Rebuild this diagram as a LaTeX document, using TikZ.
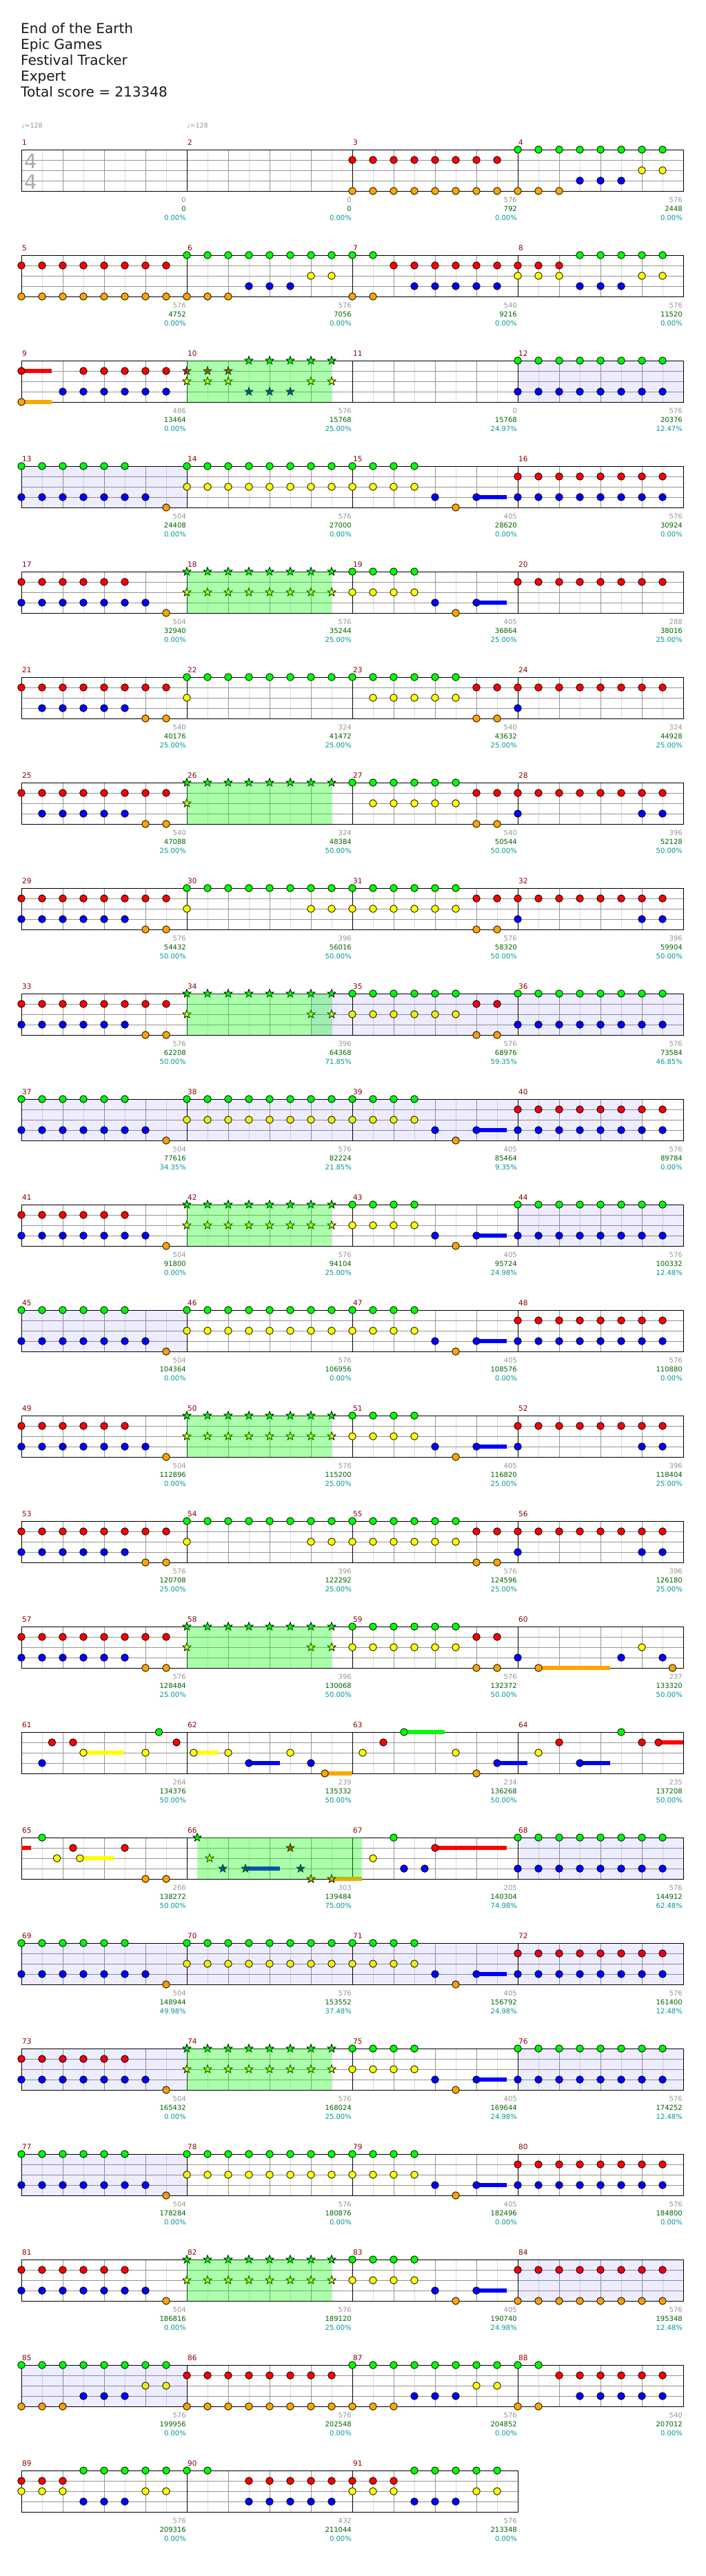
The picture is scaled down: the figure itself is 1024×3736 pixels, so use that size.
\documentclass[tikz,border=0pt]{standalone}
\usepackage{fontspec}
\setmainfont{DejaVu Sans}
\usepackage{tikz}
\definecolor{laneGreen}{RGB}{0,255,0}
\definecolor{laneRed}{RGB}{255,0,0}
\definecolor{laneYellow}{RGB}{255,255,0}
\definecolor{laneBlue}{RGB}{0,0,255}
\definecolor{laneOrange}{RGB}{255,165,0}
\colorlet{lane0}{laneGreen}
\colorlet{lane1}{laneRed}
\colorlet{lane2}{laneYellow}
\colorlet{lane3}{laneBlue}
\colorlet{lane4}{laneOrange}
\definecolor{barRed}{RGB}{139,0,0}
\definecolor{statGray}{RGB}{150,150,150}
\definecolor{statGreen}{RGB}{0,100,0}
\definecolor{statTeal}{RGB}{0,150,150}
\definecolor{gridGray}{RGB}{150,150,150}
\definecolor{gridLight}{RGB}{220,220,220}

\tikzset{
  note/.style={draw=black,line width=0.8pt},
  spfill/.style={fill=laneGreen,fill opacity=0.33},
  lavfill/.style={fill=laneBlue,fill opacity=0.07},
  titletext/.style={anchor=base west,inner sep=0pt,text=black!90,font=\fontsize{20}{24}\selectfont},
  tempo/.style={anchor=base west,inner sep=0pt,text=statGray,font=\fontsize{9.5}{11}\selectfont},
  timesig/.style={anchor=base,inner sep=0pt,text=black!33,font=\fontsize{29}{30}\selectfont},
  barnum/.style={anchor=base west,inner sep=0pt,text=barRed,font=\fontsize{10.5}{12}\selectfont},
  stathit/.style={anchor=base east,inner sep=0pt,text=statGray,font=\fontsize{10}{12}\selectfont},
  statscore/.style={stathit,text=statGreen},
  statpct/.style={stathit,text=statTeal}
}

% origin of measure #1 -> \mX, \mY
\newcommand{\setm}[1]{%
  \pgfmathtruncatemacro{\mcol}{mod(#1-1,4)}%
  \pgfmathtruncatemacro{\mrow}{(#1-1)/4}%
  \pgfmathsetmacro{\mX}{31+240*\mcol}%
  \pgfmathsetmacro{\mY}{217+153*\mrow}}
% notes: measure, lane, positions (eighths)
\newcommand{\nts}[3]{\setm{#1}\foreach \pos in {#3}{\filldraw[note,fill=lane#2] ({\mX+30*\pos},{\mY+15*#2}) circle (5.3);}}
% star notes
\newcommand{\sts}[3]{\setm{#1}\foreach \pos in {#3}{\filldraw[note,fill=lane#2,shift={({\mX+30*\pos},{\mY+15*#2})}]
  (0,-6.3) -- (1.53,-2.1) -- (5.99,-1.95) -- (2.47,0.8) -- (3.7,5.1) -- (0,2.6) -- (-3.7,5.1) -- (-2.47,0.8) -- (-5.99,-1.95) -- (-1.53,-2.1) -- cycle;}}
% sustain: measure, lane, from, to
\newcommand{\sus}[4]{\setm{#1}\fill[lane#2] ({\mX+30*#3},{\mY+15*#2-3.4}) rectangle ({\mX+30*#4},{\mY+15*#2+3.4});}
% overlays: measure, from, to
\newcommand{\spb}[3]{\setm{#1}\fill[spfill] ({\mX+30*#2},\mY) rectangle ({\mX+30*#3},{\mY+60});}
\newcommand{\lav}[3]{\setm{#1}\fill[lavfill] ({\mX+30*#2},\mY) rectangle ({\mX+30*#3},{\mY+60});}
% staff: row, last column
\newcommand{\staff}[2]{%
  \pgfmathsetmacro{\sY}{217+153*#1}%
  \pgfmathsetmacro{\sR}{31+240*(#2+1)}%
  \foreach \col in {0,...,#2}{
    \foreach \kk in {1,3,5,7} \draw[gridLight,line width=1pt] ({31+240*\col+30*\kk},\sY) -- ++(0,60);
    \foreach \kk in {2,4,6} \draw[gridGray,line width=1pt] ({31+240*\col+30*\kk},\sY) -- ++(0,60);
  }
  \foreach \lne in {1,2,3} \draw[gridGray,line width=1pt] (31,{\sY+15*\lne}) -- (\sR,{\sY+15*\lne});
  \foreach \col in {1,...,#2} \draw[black,line width=1pt] ({31+240*\col},\sY) -- ++(0,60);
  \draw[black,line width=1pt] (31,\sY) rectangle (\sR,{\sY+60});}
% repeated figures
\newcommand{\pair}[3]{\nts{#1}{#2}{0,...,7}\nts{#1}{#3}{0,...,7}}
\newcommand{\chugA}[1]{\nts{#1}{0}{0,...,7}\nts{#1}{4}{0,1,2}\nts{#1}{3}{3,4,5}\nts{#1}{2}{6,7}}
\newcommand{\chugB}[1]{\nts{#1}{1}{0,1,2}\nts{#1}{2}{0,1,2}\nts{#1}{0}{3,...,7}\nts{#1}{3}{3,4,5}\nts{#1}{2}{6,7}}
\newcommand{\runA}[2]{\nts{#1}{#2}{0,...,5}\nts{#1}{3}{0,...,6}\nts{#1}{4}{7}}
\newcommand{\fillA}[1]{\nts{#1}{0}{0,...,3}\nts{#1}{2}{0,...,3}\sus{#1}{3}{6}{7.48}\nts{#1}{3}{4,6}\nts{#1}{4}{5}}
\newcommand{\leadA}[2]{\nts{#1}{1}{0,...,7}\nts{#1}{3}{#2}\nts{#1}{4}{6,7}}
\newcommand{\leadB}[2]{\nts{#1}{0}{0,...,5}\nts{#1}{2}{#2}\nts{#1}{1}{6,7}\nts{#1}{4}{6,7}}
\newcommand{\spStars}[1]{\sts{#1}{0}{0,...,7}\sts{#1}{2}{0,...,7}}

\begin{document}
\begin{tikzpicture}[x=1pt,y=-1pt]
  \useasboundingbox (0,0) rectangle (1024,3736);
  % header
  \node[titletext] (song) at (30,49) {End of the Earth};
  \node[titletext] (artist) at (30,72) {Epic Games};
  \node[titletext] (source) at (30,95) {Festival Tracker};
  \node[titletext] (level) at (30,118) {Expert};
  \node[titletext] (total) at (30,141) {Total score = 213348};
  \node[tempo] (tempo1) at (31,185) {♩=128};
  \node[tempo] (tempo2) at (271,185) {♩=128};

  % staves
  \foreach \r in {0,...,21} {\staff{\r}{3}}
  \staff{22}{2}
  \node[timesig] (tsTop) at (44.3,244) {4};
  \node[timesig] (tsBot) at (44.3,274) {4};

  % measures 1-8
  \pair{3}{1}{4} \chugA{4}
  \pair{5}{1}{4} \chugA{6}
  \nts{7}{0}{0,1}\nts{7}{4}{0,1}\nts{7}{1}{2,...,7}\nts{7}{3}{3,...,7}
  \chugB{8}
  % measures 9-16
  \sus{9}{1}{0}{1.48}\sus{9}{4}{0}{1.48}
  \nts{9}{1}{0,3,4,5,6,7}\nts{9}{4}{0}\nts{9}{3}{2,...,7}
  \sts{10}{1}{0,1,2}\sts{10}{2}{0,1,2}\sts{10}{0}{3,...,7}\sts{10}{3}{3,4,5}\sts{10}{2}{6,7}
  \pair{12}{0}{3}
  \runA{13}{0} \pair{14}{0}{2} \fillA{15} \pair{16}{1}{3}
  % measures 17-32
  \runA{17}{1} \spStars{18} \fillA{19} \nts{20}{1}{0,...,7}
  \leadA{21}{1,...,5}
  \nts{22}{0}{0,...,7}\nts{22}{2}{0}
  \leadB{23}{1,...,5}
  \nts{24}{1}{0,...,7}\nts{24}{3}{0}
  \leadA{25}{1,...,5}
  \sts{26}{0}{0,...,7}\sts{26}{2}{0}
  \leadB{27}{1,...,5}
  \nts{28}{1}{0,...,7}\nts{28}{3}{0,6,7}
  \leadA{29}{0,...,5}
  \nts{30}{0}{0,...,7}\nts{30}{2}{0,6,7}
  \leadB{31}{0,...,5}
  \nts{32}{1}{0,...,7}\nts{32}{3}{0,6,7}
  % measures 33-52
  \leadA{33}{0,...,5}
  \sts{34}{0}{0,...,7}\sts{34}{2}{0,6,7}
  \leadB{35}{0,...,5}
  \pair{36}{0}{3}
  \runA{37}{0} \pair{38}{0}{2} \fillA{39} \pair{40}{1}{3}
  \runA{41}{1} \spStars{42} \fillA{43} \pair{44}{0}{3}
  \runA{45}{0} \pair{46}{0}{2} \fillA{47} \pair{48}{1}{3}
  \runA{49}{1} \spStars{50} \fillA{51}
  \nts{52}{1}{0,...,7}\nts{52}{3}{0,6,7}
  % measures 53-60
  \leadA{53}{0,...,5}
  \nts{54}{0}{0,...,7}\nts{54}{2}{0,6,7}
  \leadB{55}{0,...,5}
  \nts{56}{1}{0,...,7}\nts{56}{3}{0,6,7}
  \leadA{57}{0,...,5}
  \sts{58}{0}{0,...,7}\sts{58}{2}{0,6,7}
  \leadB{59}{0,...,5}
  \sus{60}{4}{1}{4.48}
  \nts{60}{3}{0,5,7}\nts{60}{4}{1,7.48}\nts{60}{2}{6}
  % measures 61-68
  \sus{61}{2}{3}{4.98}
  \nts{61}{3}{1}\nts{61}{1}{1.48,2.5,7.5}\nts{61}{2}{3,6}\nts{61}{0}{6.65}
  \sus{62}{2}{0.33}{1.5}\sus{62}{3}{3}{4.5}\sus{62}{4}{6.67}{8}
  \nts{62}{2}{0.33,2,5}\nts{62}{3}{3,6}\nts{62}{4}{6.67}
  \sus{63}{0}{2.5}{4.48}\sus{63}{3}{7}{8.48}
  \nts{63}{2}{0.5,5}\nts{63}{1}{1.5}\nts{63}{0}{2.5}\nts{63}{4}{6}\nts{63}{3}{7}
  \sus{64}{3}{3}{4.48}\sus{64}{1}{6.8}{8}
  \nts{64}{2}{1}\nts{64}{1}{2,6,6.8}\nts{64}{3}{3}\nts{64}{0}{5}
  \sus{65}{1}{0}{0.48}\sus{65}{2}{2.83}{4.48}
  \nts{65}{0}{1}\nts{65}{2}{1.72,2.83}\nts{65}{1}{2.5,5}\nts{65}{4}{6,7}
  \sus{66}{3}{2.83}{4.5}\sus{66}{4}{7}{8.48}
  \sts{66}{0}{0.5}\sts{66}{2}{1.1}\sts{66}{3}{1.74,2.83,5.5}\sts{66}{1}{5}\sts{66}{4}{6,7}
  \sus{67}{1}{4}{7.48}
  \nts{67}{2}{1}\nts{67}{0}{2}\nts{67}{3}{2.5,3.5}\nts{67}{1}{4}
  \pair{68}{0}{3}
  % measures 69-91
  \runA{69}{0} \pair{70}{0}{2} \fillA{71} \pair{72}{1}{3}
  \runA{73}{1} \spStars{74} \fillA{75} \pair{76}{0}{3}
  \runA{77}{0} \pair{78}{0}{2} \fillA{79} \pair{80}{1}{3}
  \runA{81}{1} \spStars{82} \fillA{83} \pair{84}{1}{4}
  \chugA{85} \pair{86}{1}{4} \chugA{87}
  \nts{88}{0}{0,1}\nts{88}{4}{0,1}\nts{88}{1}{2,...,7}\nts{88}{3}{3,...,7}
  \chugB{89}
  \nts{90}{0}{0,1}\nts{90}{1}{3,...,7}\nts{90}{3}{3,...,7}
  \chugB{91}

  % star power and overlap shading
  \foreach \m in {10,18,26,34,42,50,58,74,82} {\spb{\m}{0}{7}}
  \spb{66}{0.5}{8.48}
  \lav{12}{0}{8}\lav{13}{0}{8}\lav{34}{6}{24}\lav{37}{0}{30}
  \lav{44}{0}{8}\lav{45}{0}{8}\lav{68}{0}{8}\lav{69}{0}{32}\lav{73}{0}{8}
  \lav{76}{0}{8}\lav{77}{0}{8}\lav{84}{0}{8}\lav{85}{0}{8}

  % measure numbers
  \foreach \m in {1,...,91} {\setm{\m}\node[barnum] (num\m) at ({\mX+1},{\mY-7}) {\m};}

  % per measure: hit value, running score, overdrive
  \foreach \m/\hit/\tot/\pct in {1/0/0/0.00,2/0/0/0.00,3/576/792/0.00,4/576/2448/0.00,
    5/576/4752/0.00,6/576/7056/0.00,7/540/9216/0.00,8/576/11520/0.00,
    9/486/13464/0.00,10/576/15768/25.00,11/0/15768/24.97,12/576/20376/12.47,
    13/504/24408/0.00,14/576/27000/0.00,15/405/28620/0.00,16/576/30924/0.00,
    17/504/32940/0.00,18/576/35244/25.00,19/405/36864/25.00,20/288/38016/25.00,
    21/540/40176/25.00,22/324/41472/25.00,23/540/43632/25.00,24/324/44928/25.00,
    25/540/47088/25.00,26/324/48384/50.00,27/540/50544/50.00,28/396/52128/50.00,
    29/576/54432/50.00,30/396/56016/50.00,31/576/58320/50.00,32/396/59904/50.00,
    33/576/62208/50.00,34/396/64368/71.85,35/576/68976/59.35,36/576/73584/46.85,
    37/504/77616/34.35,38/576/82224/21.85,39/405/85464/9.35,40/576/89784/0.00,
    41/504/91800/0.00,42/576/94104/25.00,43/405/95724/24.98,44/576/100332/12.48,
    45/504/104364/0.00,46/576/106956/0.00,47/405/108576/0.00,48/576/110880/0.00,
    49/504/112896/0.00,50/576/115200/25.00,51/405/116820/25.00,52/396/118404/25.00,
    53/576/120708/25.00,54/396/122292/25.00,55/576/124596/25.00,56/396/126180/25.00,
    57/576/128484/25.00,58/396/130068/50.00,59/576/132372/50.00,60/237/133320/50.00,
    61/264/134376/50.00,62/239/135332/50.00,63/234/136268/50.00,64/235/137208/50.00,
    65/266/138272/50.00,66/303/139484/75.00,67/205/140304/74.98,68/576/144912/62.48,
    69/504/148944/49.98,70/576/153552/37.48,71/405/156792/24.98,72/576/161400/12.48,
    73/504/165432/0.00,74/576/168024/25.00,75/405/169644/24.98,76/576/174252/12.48,
    77/504/178284/0.00,78/576/180876/0.00,79/405/182496/0.00,80/576/184800/0.00,
    81/504/186816/0.00,82/576/189120/25.00,83/405/190740/24.98,84/576/195348/12.48,
    85/576/199956/0.00,86/576/202548/0.00,87/576/204852/0.00,88/540/207012/0.00,
    89/576/209316/0.00,90/432/211044/0.00,91/576/213348/0.00} {
    \setm{\m}
    \node[stathit] (hit\m) at ({\mX+239},{\mY+76}) {\hit};
    \node[statscore] (score\m) at ({\mX+239},{\mY+89}) {\tot};
    \node[statpct] (pct\m) at ({\mX+239},{\mY+102}) {\pct\%};
  }
\end{tikzpicture}
\end{document}
